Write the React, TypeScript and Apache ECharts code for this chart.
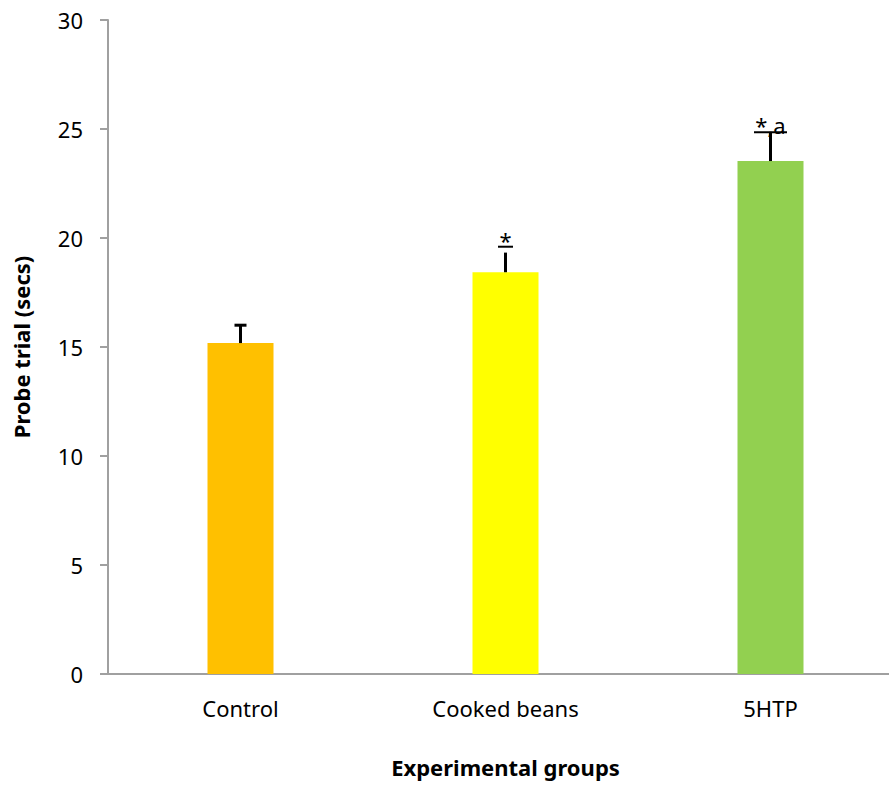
import React, { useEffect, useRef } from "react";
import * as echarts from "echarts";

const categories = ["Control", "Cooked beans", "5HTP"];
const means = [15.18, 18.43, 23.53];
const errorUpper = [16.0, 19.33, 24.85];
const annotations = ["", "*", "*,a"];
const annotationLevel = [null, 19.6, 24.85];
const barColors = ["#FFC000", "#FFFF00", "#92D050"];
const yTicks = [0, 5, 10, 15, 20, 25, 30];

const FONT = "'Noto Sans', 'Open Sans', sans-serif";

export default function App() {
  const ref = useRef<HTMLDivElement>(null);
  useEffect(() => {
    const chart = echarts.init(ref.current!, null, { renderer: "svg" });
    const capWidths = [12, 0, 0];
    const underlineWidths = [0, 15, 33];
    chart.setOption({
      animation: false,
      grid: {
        left: 108,
        top: 20,
        right: -14,
        bottom: 111,
        containLabel: false,
        outerBoundsMode: "none",
      },
      xAxis: {
        type: "category",
        data: categories,
        axisLine: { lineStyle: { color: "#A0A0A0", width: 2 } },
        axisTick: { show: false },
        axisLabel: { color: "#000", fontFamily: FONT, fontSize: 22, margin: 23 },
        name: "Experimental groups",
        nameLocation: "middle",
        nameGap: 82,
        nameTextStyle: { color: "#000", fontFamily: FONT, fontSize: 22, fontWeight: "bold" },
      },
      yAxis: {
        type: "value",
        min: yTicks[0],
        max: yTicks[yTicks.length - 1],
        interval: 5,
        splitLine: { show: false },
        axisLine: { show: true, lineStyle: { color: "#A0A0A0", width: 2 } },
        axisTick: { show: true, inside: false, length: 8, lineStyle: { color: "#A0A0A0", width: 2 } },
        axisLabel: { color: "#000", fontFamily: FONT, fontSize: 22, margin: 25 },
        name: "Probe trial (secs)",
        nameLocation: "middle",
        nameGap: 76,
        nameTextStyle: { color: "#000", fontFamily: FONT, fontSize: 22, fontWeight: "bold" },
      },
      series: [
        {
          type: "bar",
          barWidth: 66,
          data: means.map((v, i) => ({ value: v, itemStyle: { color: barColors[i] } })),
        },
        {
          type: "custom",
          data: means.map((m, i) => [i, m, errorUpper[i]]),
          renderItem: (params: any, api: any) => {
            const i = api.value(0);
            const base = api.coord([i, api.value(1)]);
            const top = api.coord([i, api.value(2)]);
            const children: any[] = [
              {
                type: "line",
                shape: { x1: base[0], y1: base[1], x2: top[0], y2: top[1] },
                style: { stroke: "#000", lineWidth: 3 },
              },
            ];
            const cw = capWidths[i];
            if (cw > 0) {
              children.push({
                type: "line",
                shape: { x1: top[0] - cw / 2, y1: top[1], x2: top[0] + cw / 2, y2: top[1] },
                style: { stroke: "#000", lineWidth: 3 },
              });
            }
            return { type: "group", children };
          },
          z: 5,
        },
        {
          type: "custom",
          data: annotations
            .map((t, i) => [i, annotationLevel[i], t])
            .filter((d) => d[1] !== null),
          renderItem: (params: any, api: any) => {
            const i = api.value(0);
            const pt = api.coord([i, api.value(1)]);
            const label = annotations[i];
            const uw = underlineWidths[i];
            return {
              type: "group",
              children: [
                {
                  type: "line",
                  shape: { x1: pt[0] - uw / 2, y1: pt[1], x2: pt[0] + uw / 2, y2: pt[1] },
                  style: { stroke: "#000", lineWidth: 2 },
                },
                {
                  type: "text",
                  x: pt[0],
                  y: pt[1] + 4,
                  style: {
                    text: label,
                    fill: "#000",
                    font: `22px ${FONT}`,
                    align: "center",
                    verticalAlign: "bottom",
                  },
                },
              ],
            };
          },
          z: 6,
        },
      ],
    });
    return () => chart.dispose();
  }, []);
  return (
    <div
      ref={ref}
      style={{ position: "absolute", left: 0, top: 0, width: 889, height: 785, background: "#fff" }}
    />
  );
}
